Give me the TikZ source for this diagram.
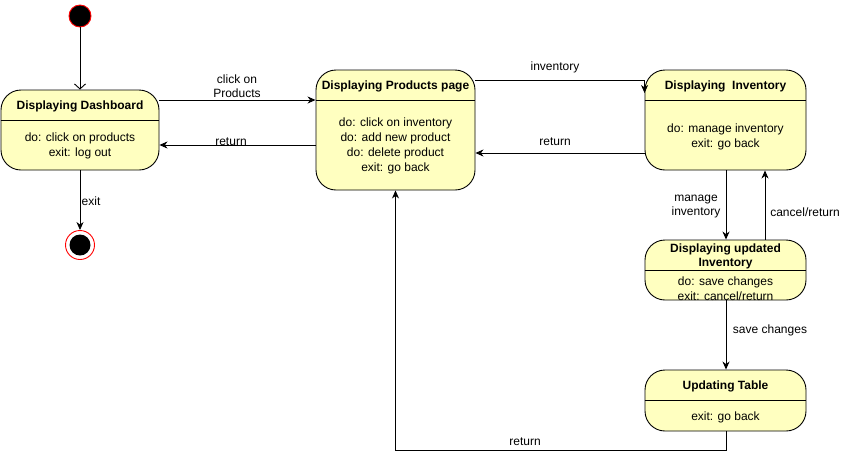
\documentclass[tikz,border=0pt]{standalone}
\usepackage{fontspec}
\setmainfont{Liberation Sans}
\usetikzlibrary{arrows.meta}
\definecolor{statefill}{HTML}{FFFFC0}
\begin{document}
\begin{tikzpicture}[x=1pt,y=-1pt,
 state/.style={draw=black, fill=statefill, rounded corners=20pt, line width=0.9pt, inner sep=0pt},
 sep/.style={line width=0.9pt},
 title/.style={font=\fontsize{12}{14}\selectfont\bfseries, align=center, inner sep=0pt, yshift=-1.5pt},
 body/.style={font=\fontsize{12}{15}\selectfont, align=center, inner sep=0pt, yshift=-1.5pt},
 lbl/.style={font=\fontsize{12}{14}\selectfont, align=center, inner sep=1pt, yshift=-1.5pt},
 arr/.style={draw, line width=0.9pt, -{Stealth[length=8pt,width=7pt,inset=2.5pt]}},
]
\useasboundingbox (0,0) rectangle (846,459);
\fill[white] (0,0) rectangle (846,459);

% states
\node[state, minimum width=158pt, minimum height=80pt] (dash) at (80,130) {};
\draw[sep] (dash.west |- 0,120) -- (dash.east |- 0,120);
\node[title] (dasht) at (80,105) {Displaying Dashboard};
\node[body] (dashb) at (80,144.5) {do: click on products\\exit: log out};

\node[state, minimum width=159pt, minimum height=120pt] (prod) at (395.5,130) {};
\draw[sep] (prod.west |- 0,100) -- (prod.east |- 0,100);
\node[title] (prodt) at (395.5,85) {Displaying Products page};
\node[body] (prodb) at (395.5,144.5) {do: click on inventory\\do: add new product\\do: delete product\\exit: go back};

\node[state, minimum width=161pt, minimum height=100pt] (inv) at (725.5,120) {};
\draw[sep] (inv.west |- 0,100) -- (inv.east |- 0,100);
\node[title] (invt) at (725.5,85) {Displaying\ \ Inventory};
\node[body] (invb) at (725.5,135) {do: manage inventory\\exit: go back};

\node[state, minimum width=161pt, minimum height=60pt] (upd) at (725.5,270) {};
\draw[sep] (upd.west |- 0,270) -- (upd.east |- 0,270);
\node[title] (updt) at (725.5,255) {Displaying updated\\Inventory};
\node[body] (updb) at (725.5,287) {do: save changes\\exit: cancel/return};

\node[state, minimum width=161pt, minimum height=61pt] (tab) at (725.5,400.5) {};
\draw[sep] (tab.west |- 0,400) -- (tab.east |- 0,400);
\node[title] (tabt) at (725.5,385) {Updating Table};
\node[body] (tabb) at (725.5,416) {exit: go back};

% initial and final
\node[circle, draw=red, fill=black, minimum size=22pt, inner sep=0pt, line width=0.9pt] (init) at (80,16) {};
\node[circle, draw=red, fill=white, minimum size=29pt, inner sep=0pt, line width=0.9pt] (fin) at (80,245) {};
\node[circle, fill=black, minimum size=21pt, inner sep=0pt] (finin) at (fin) {};

% connectors
\draw[line width=0.9pt, -{Straight Barb[length=5pt,width=11pt]}] (init) -- (dash);
\draw[arr] (dash.south) -- (fin);
\node[lbl] (lexit) at (91,200) {exit};

\draw[arr] (dash.east |- 0,100) -- (prod.west |- 0,100);
\node[lbl] (lclick) at (237,85) {click on\\Products};
\draw[arr] (prod.west |- 0,145) -- (dash.east |- 0,145);
\node[lbl] (lret1) at (231,140) {return};

\draw[arr] (prod.east |- 0,80) -| (inv.north west |- 0,93);
\node[lbl] (linv) at (555,66) {inventory};
\draw[arr] (inv.west |- 0,153) -- (prod.east |- 0,153);
\node[lbl] (lret2) at (555,140) {return};

\draw[arr] (inv.south -| 726,0) -- (upd.north -| 726,0);
\node[lbl] (lman) at (696,205) {manage\\inventory};
\draw[arr] (upd.north -| 765,0) -- (inv.south -| 765,0);
\node[lbl] (lcan) at (805,211) {cancel/return};

\draw[arr] (upd.south -| 726,0) -- (tab.north -| 726,0);
\node[lbl] (lsave) at (770,329) {save changes};

\draw[arr] (tab.south -| 726,0) -- (726,450) -| (prod.south);
\node[lbl] (lret3) at (525,440) {return};
\end{tikzpicture}
\end{document}
